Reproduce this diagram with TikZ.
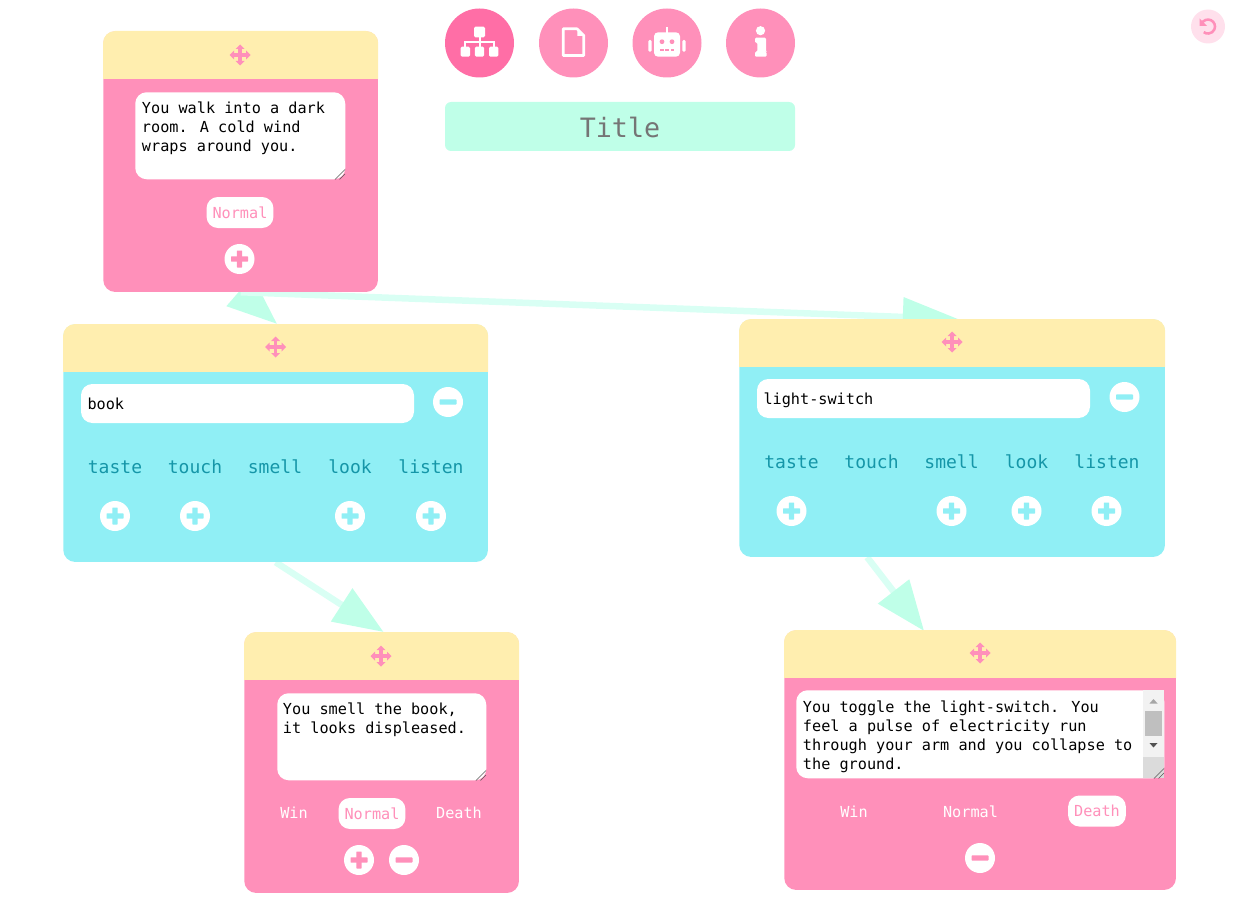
\documentclass[tikz,border=0pt]{standalone}
\usepackage{fontspec}
\setmainfont{DejaVu Sans Mono}
\usetikzlibrary{arrows.meta,calc,backgrounds}

\definecolor{pinkcard}{HTML}{FF90BA}
\definecolor{pinkdeep}{HTML}{FF6EA6}
\definecolor{pinksoft}{HTML}{FFE0EC}
\definecolor{cyancard}{HTML}{90EFF5}
\definecolor{tealtext}{HTML}{1596A8}
\definecolor{yellowhead}{HTML}{FFEEAF}
\definecolor{mintfill}{HTML}{BFFFE8}
\definecolor{mintline}{HTML}{D9FFF4}
\definecolor{titlegray}{HTML}{757575}

% 1 px del original = 0.75pt
\newcommand{\pxu}{0.75pt}

\tikzset{
  plusmark/.pic={\fill[rounded corners=0.5] (-8.5,-2.7) rectangle (8.5,2.7); \fill[rounded corners=0.5] (-2.7,-8.5) rectangle (2.7,8.5);},
  minusmark/.pic={\fill[rounded corners=0.5] (-8.5,-2.6) rectangle (8.5,2.6);},
  movemark/.pic={
    \fill (-7,-1.7) rectangle (7,1.7);
    \fill (-1.7,-7) rectangle (1.7,7);
    \fill (-10.5,0) -- (-6,-4.5) -- (-6,4.5) -- cycle;
    \fill (10.5,0) -- (6,-4.5) -- (6,4.5) -- cycle;
    \fill (0,-10.5) -- (-4.5,-6) -- (4.5,-6) -- cycle;
    \fill (0,10.5) -- (-4.5,6) -- (4.5,6) -- cycle;
  },
  gripmark/.pic={
    \draw[black!65, line width=0.4pt] (-10.5,0) -- (-0.5,-10);
    \draw[black!65, line width=0.4pt] (-6,0) -- (-0.5,-5.5);
  },
  treeicon/.pic={
    \fill[white, rounded corners=1] (-5.5,-16.3) rectangle (5.5,-5.7);
    \fill[white, rounded corners=1] (-18.8,3.7) rectangle (-9.5,13.7);
    \fill[white, rounded corners=1] (-4.6,3.7) rectangle (4.6,13.7);
    \fill[white, rounded corners=1] (9.5,3.7) rectangle (18.8,13.7);
    \draw[white, line width=1.5pt] (0,-6) -- (0,4);
    \draw[white, line width=1.5pt] (-14.2,4) -- (-14.2,-1.3) -- (14.2,-1.3) -- (14.2,4);
  },
  docicon/.pic={
    \draw[white, line width=2pt, line join=round] (-10.3,-14.2) -- (3.5,-14.2) -- (10.3,-7.5) -- (10.3,12.5) -- (-10.3,12.5) -- cycle;
    \fill[white] (3.8,-12.3) -- (3.8,-7) -- (9.2,-7) -- cycle;
  },
  roboticon/.pic={
    \fill[white, rounded corners=3] (-13,-10.7) rectangle (13,13.7);
    \fill[white] (-1.3,-16) rectangle (1.3,-10);
    \fill[white, rounded corners=1] (-18.7,-3) rectangle (-15.3,8.7);
    \fill[white, rounded corners=1] (15.3,-3) rectangle (18.7,8.7);
    \fill[pinkcard] (-5,-1.3) circle (2.4);
    \fill[pinkcard] (5,-1.3) circle (2.4);
    \fill[pinkcard] (-7,6.3) rectangle (-3.5,7.8);
    \fill[pinkcard] (-1.7,6.3) rectangle (1.7,7.8);
    \fill[pinkcard] (3.5,6.3) rectangle (7,7.8);
  },
  infoicon/.pic={
    \fill[white] (0,-12.3) circle (4.6);
    \fill[white, rounded corners=0.8] (-5.5,-5.3) -- (5.5,-5.3) -- (5.5,8.7) -- (6,8.7) -- (6,13.7) -- (-5.5,13.7) -- (-5.5,8.7) -- (-3.2,8.7) -- (-3.2,-0.3) -- (-5.5,-0.3) -- cycle;
  },
  undoicon/.pic={
    \draw[pinkcard, line width=1.9pt] (-6.4,-2.8) arc (-156:127:7);
    \fill[pinkcard] (-8.5,-8) -- (-8.5,-0.5) -- (-1,-0.5) -- cycle;
  },
}

\newcommand{\cardtop}[2]{%
  \begin{scope}
    \clip (#1.north west) rectangle ([yshift=-35.8pt]#1.north east);
    \fill[yellowhead, rounded corners=9pt] (#1.north west) rectangle (#1.south east);
  \end{scope}
  \pic[color=pinkcard] at (#2) {movemark};
}
\newcommand{\plusbtn}[4]{\node[btn] (#1) at (#2,#3) {}; \pic[color=#4] at (#1) {plusmark};}
\newcommand{\minusbtn}[4]{\node[btn] (#1) at (#2,#3) {}; \pic[color=#4] at (#1) {minusmark};}

\begin{document}
\begin{tikzpicture}[x=0.75pt,y=-0.75pt]
  % Estilos
  \tikzstyle{pagecard}=[rectangle, fill=pinkcard, rounded corners=9pt, anchor=north west, inner sep=0pt]
  \tikzstyle{itemcard}=[rectangle, fill=cyancard, rounded corners=9pt, anchor=north west, inner sep=0pt]
  \tikzstyle{tabbtn}=[circle, fill=pinkcard, inner sep=0pt, minimum size=69*\pxu]
  \tikzstyle{btn}=[circle, fill=white, inner sep=0pt, minimum size=30*\pxu]
  \tikzstyle{area}=[rectangle, fill=white, rounded corners=8.5pt, anchor=north west, inner sep=0pt]
  \tikzstyle{areatext}=[anchor=north west, inner sep=0pt, align=left, black, font=\fontsize{11.4}{14.25}\selectfont]
  \tikzstyle{itemname}=[rectangle, fill=white, rounded corners=8.5pt, inner xsep=6.5*\pxu, inner ysep=0pt, minimum height=39*\pxu, text width=320*\pxu, align=left, text height=11.7pt, text depth=2pt, font=\fontsize{11.4}{14.25}\selectfont]
  \tikzstyle{sense}=[tealtext, inner sep=0pt, text height=13.5pt, text depth=2pt, font=\fontsize{13.5}{16}\selectfont]
  \tikzstyle{kind}=[white, inner sep=0pt, text height=10.5pt, text depth=2pt, font=\fontsize{11.4}{14}\selectfont]
  \tikzstyle{kindon}=[kind, text=pinkcard, fill=white, rounded corners=8.5pt, inner xsep=6*\pxu, minimum height=31*\pxu]
  \tikzstyle{link}=[draw=mintline, line width=6.5*\pxu, -{Triangle[length=37.5pt,width=28.5pt,color=mintfill]}]
  \tikzstyle{longlink}=[draw=mintline, line width=6.5*\pxu, -{Triangle[length=41.5pt,width=28.5pt,color=mintfill]}]

  \useasboundingbox (0,0) rectangle (1258,906);

  % Barra superior
  \node[tabbtn, fill=pinkdeep] (tabtree) at (479.5,43) {};
  \node[tabbtn] (tabdoc) at (573.5,43) {};
  \node[tabbtn] (tabbot) at (667,43) {};
  \node[tabbtn] (tabinfo) at (760.5,43) {};
  \pic at (tabtree) {treeicon};
  \pic at (tabdoc) {docicon};
  \pic at (tabbot) {roboticon};
  \pic at (tabinfo) {infoicon};
  \node[rectangle, fill=mintfill, rounded corners=4.5pt, minimum width=350*\pxu, minimum height=49*\pxu, inner sep=0pt, text height=19.5pt, text depth=3.4pt, text=titlegray, font=\fontsize{20}{24}\selectfont] (title) at (620,126.5) {Title};
  \node[circle, fill=pinksoft, inner sep=0pt, minimum size=34*\pxu] (undo) at (1208,26.5) {};
  \pic at (undo) {undoicon};

  % Tarjeta inicial
  \node[pagecard, minimum width=274.7*\pxu, minimum height=260.7*\pxu] (start) at (103,31) {};
  \cardtop{start}{240,55}
  \node[area, minimum width=210*\pxu, minimum height=87*\pxu] (startarea) at (135,92) {};
  \node[areatext] (starttext) at (141.7,99.7) {\strut You walk into a dark\\room. A cold wind\\wraps around you.};
  \pic at (startarea.south east) {gripmark};
  \node[kindon] (startkind) at (240,212.5) {Normal};
  \plusbtn{startplus}{239.5}{259}{pinkcard}

  % Objeto: book
  \node[itemcard, minimum width=424.7*\pxu, minimum height=237.7*\pxu] (book) at (63,324) {};
  \cardtop{book}{275.5,347}
  \node[itemname] (bookname) at (247.5,403.5) {book};
  \minusbtn{bookminus}{448}{402}{cyancard}
  \node[sense] (booktaste) at (115,466) {taste};
  \node[sense] (booktouch) at (195,466) {touch};
  \node[sense] (booksmell) at (275,466) {smell};
  \node[sense] (booklook) at (350,466) {look};
  \node[sense] (booklisten) at (431,466) {listen};
  \plusbtn{bookp1}{115}{516}{cyancard}
  \plusbtn{bookp2}{195}{516}{cyancard}
  \plusbtn{bookp3}{350}{516}{cyancard}
  \plusbtn{bookp4}{431}{516}{cyancard}

  % Objeto: light-switch
  \node[itemcard, minimum width=425.7*\pxu, minimum height=237.7*\pxu] (light) at (739,319) {};
  \cardtop{light}{952,342}
  \node[itemname] (lightname) at (923.5,398.5) {light-switch};
  \minusbtn{lightminus}{1124.5}{397}{cyancard}
  \node[sense] (lighttaste) at (791.5,461) {taste};
  \node[sense] (lighttouch) at (871.5,461) {touch};
  \node[sense] (lightsmell) at (951.5,461) {smell};
  \node[sense] (lightlook) at (1026.5,461) {look};
  \node[sense] (lightlisten) at (1107,461) {listen};
  \plusbtn{lightp1}{791.5}{511}{cyancard}
  \plusbtn{lightp2}{951.5}{511}{cyancard}
  \plusbtn{lightp3}{1026.5}{511}{cyancard}
  \plusbtn{lightp4}{1106.5}{511}{cyancard}

  % Resultado de smell
  \node[pagecard, minimum width=274.7*\pxu, minimum height=260.7*\pxu] (smell) at (244,632) {};
  \cardtop{smell}{381,656}
  \node[area, minimum width=209*\pxu, minimum height=87*\pxu] (smellarea) at (277,693) {};
  \node[areatext] (smelltext) at (282.7,700.7) {\strut You smell the book,\\it looks displeased.};
  \pic at (smellarea.south east) {gripmark};
  \node[kind] (smellwin) at (294,813) {Win};
  \node[kindon] (smellnormal) at (372,813.5) {Normal};
  \node[kind] (smelldeath) at (459,813) {Death};
  \plusbtn{smellplus}{359}{860}{pinkcard}
  \minusbtn{smellminus}{404}{860}{pinkcard}

  % Resultado de toggle
  \node[pagecard, minimum width=391.7*\pxu, minimum height=259.7*\pxu] (toggle) at (784,630) {};
  \cardtop{toggle}{980,653}
  \node[area, minimum width=368*\pxu, minimum height=88*\pxu] (togglearea) at (796,690) {};
  \fill[black!5] (1143,690) rectangle (1164,757);
  \fill[black!14] (1143,757) rectangle (1164,778);
  \fill[black!25] (1145,711) rectangle (1162,736);
  \fill[black!35] (1149.5,703.5) -- (1153.5,699) -- (1157.5,703.5) -- cycle;
  \fill[black!68] (1149.5,743) -- (1153.5,747.5) -- (1157.5,743) -- cycle;
  \node[areatext] (toggletext) at (802.7,698.7) {\strut You toggle the light-switch. You\\feel a pulse of electricity run\\through your arm and you collapse to\\the ground.};
  \pic at (togglearea.south east) {gripmark};
  \node[kind] (togglewin) at (854,812) {Win};
  \node[kind] (togglenormal) at (970.5,812) {Normal};
  \node[kindon] (toggledeath) at (1097,811) {Death};
  \minusbtn{toggleminus}{980}{858}{pinkcard}

  % Conexiones, por debajo de las tarjetas
  \begin{scope}[on background layer]
    \draw[link] (start.south) -- ($(book.north)+(1.5,0)$);
    \draw[longlink] (start.south) -- ($(light.north)+(6,0)$);
    \draw[link] (book.south) -- ($(smell.north)+(2,0)$);
    \draw[link] ($(light.south)+(-85,0)$) -- ($(toggle.north)+(-56,1)$);
  \end{scope}
\end{tikzpicture}
\end{document}
